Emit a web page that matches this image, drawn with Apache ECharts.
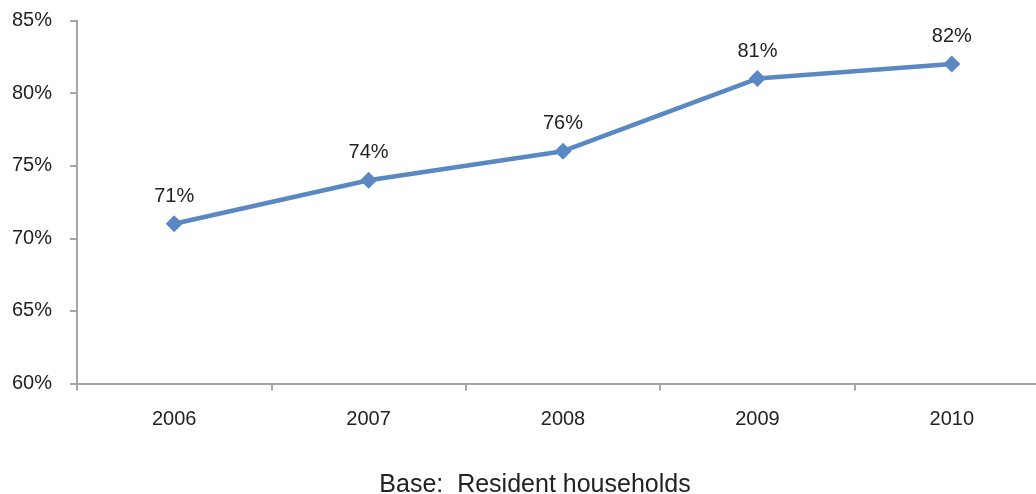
<!DOCTYPE html>
<html><head><meta charset="utf-8">
<script src="https://cdn.jsdelivr.net/npm/echarts@6/dist/echarts.min.js"></script>
<style>html,body{margin:0;padding:0;background:#fff}#c{width:1036px;height:494px}</style>
</head><body><div id="c"></div>
<script>
const categories = ['2006', '2007', '2008', '2009', '2010'];
const values = [71, 74, 76, 81, 82];
const yTicks = [60, 65, 70, 75, 80, 85];
const footnote = 'Base:  Resident households';

const chart = echarts.init(document.getElementById('c'));
const font = '"Liberation Sans", Arial, sans-serif';
chart.setOption({
  animation: false,
  title: {
    text: footnote, left: 530, textAlign: 'center', top: 468,
    textStyle: {fontFamily: font, fontSize: 25, fontWeight: 'normal', color: '#222'}
  },
  grid: {left: 77, width: 972, top: 20.5, height: 363, containLabel: false, outerBoundsMode: 'none'},
  xAxis: {
    type: 'category', data: categories, boundaryGap: true,
    axisLine: {lineStyle: {color: '#a6a6a6', width: 2}},
    axisTick: {show: true, length: 7, lineStyle: {color: '#a6a6a6', width: 2}},
    axisLabel: {fontFamily: font, fontSize: 20, color: '#222', margin: 26}
  },
  yAxis: {
    type: 'value', min: yTicks[0], max: yTicks[yTicks.length - 1], interval: 5,
    axisLine: {show: true, lineStyle: {color: '#a6a6a6', width: 2}},
    axisTick: {show: true, length: 7, lineStyle: {color: '#a6a6a6', width: 2}},
    splitLine: {show: false},
    axisLabel: {fontFamily: font, fontSize: 20, color: '#222', margin: 25, formatter: '{value}%'}
  },
  series: [{
    type: 'line', data: values,
    symbol: 'diamond', symbolSize: 17,
    lineStyle: {color: '#5a88c2', width: 4.5},
    itemStyle: {color: '#5a88c2'},
    label: {show: true, position: 'top', distance: 9, formatter: '{c}%',
      fontFamily: font, fontSize: 20, color: '#222'}
  }]
});
</script></body></html>
